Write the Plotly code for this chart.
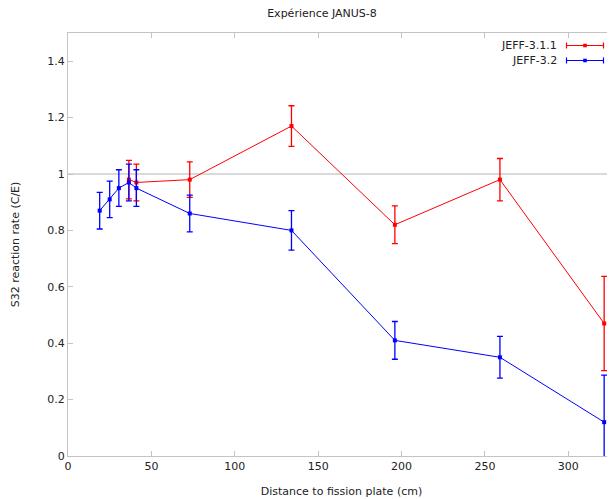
import plotly.graph_objects as go

# ---- data ----
series_names = ["JEFF-3.1.1", "JEFF-3.2"]
x_jeff311 = [36.5, 41, 73, 134, 196, 259, 321.5]
y_jeff311 = [0.98, 0.97, 0.98, 1.17, 0.82, 0.98, 0.47]
err_jeff311 = [0.068, 0.065, 0.063, 0.072, 0.067, 0.075, 0.167]

x_jeff32 = [19, 25, 30.5, 36.5, 41, 73, 134, 196, 259, 321.5]
y_jeff32 = [0.87, 0.91, 0.95, 0.97, 0.95, 0.86, 0.80, 0.41, 0.35, 0.12]
err_jeff32 = [0.065, 0.065, 0.065, 0.065, 0.065, 0.065, 0.07, 0.067, 0.074, 0.167]

x_ticks = [0, 50, 100, 150, 200, 250, 300]
y_ticks = [0, 0.2, 0.4, 0.6, 0.8, 1, 1.2, 1.4]
y_tick_labels = ["0", "0.2", "0.4", "0.6", "0.8", "1", "1.2", "1.4"]
reference_level = 1.0

colors = ["#ff0000", "#0000ff"]
FONT = "DejaVu Sans"
AXIS_COLOR = "#c4c4c4"
TEXT_COLOR = "#222222"

# the page body adds an 8px offset; layout is given in page pixels below
OFF = 8
W, H = 615, 499
plot_left, plot_right, plot_top, plot_bottom = 68, 615, 33, 456
plot_w = plot_right - plot_left
plot_h = plot_bottom - plot_top

fig = go.Figure()
for xs, ys, es, c, name in [
    (x_jeff311, y_jeff311, err_jeff311, colors[0], series_names[0]),
    (x_jeff32, y_jeff32, err_jeff32, colors[1], series_names[1]),
]:
    fig.add_trace(go.Scatter(
        x=xs, y=ys, name=name, mode="lines+markers",
        line=dict(color=c, width=1),
        marker=dict(color=c, size=4, symbol="square", line=dict(width=0)),
        error_y=dict(type="data", array=es, visible=True, color=c,
                     thickness=1.3, width=3),
        showlegend=False, cliponaxis=False,
    ))

def px_x(p):
    return (p - plot_left) / plot_w
def px_y(p):
    return 1 - (p - plot_top) / plot_h

shapes = [dict(type="line", xref="paper", yref="y", x0=0, x1=1,
               y0=reference_level, y1=reference_level,
               line=dict(color="#cccccc", width=1.5), layer="below")]
annotations = []
key_rows = [45.5, 60.5]
for i, (name, c) in enumerate(zip(series_names, colors)):
    yy = px_y(key_rows[i])
    x0, x1, xm = px_x(566.5), px_x(603.5), px_x(585)
    dy = 3 / plot_h
    shapes.append(dict(type="line", xref="paper", yref="paper", x0=x0, x1=x1, y0=yy, y1=yy,
                       line=dict(color=c, width=1.2)))
    for xc in (x0, x1):
        shapes.append(dict(type="line", xref="paper", yref="paper", x0=xc, x1=xc,
                           y0=yy - dy, y1=yy + dy, line=dict(color=c, width=1.2)))
    shapes.append(dict(type="rect", xref="paper", yref="paper",
                       x0=xm - 1.8 / plot_w, x1=xm + 1.8 / plot_w,
                       y0=yy - 1.8 / plot_h, y1=yy + 1.8 / plot_h,
                       line=dict(width=0), fillcolor=c))
    annotations.append(dict(text=name, xref="paper", yref="paper", x=px_x(559), y=yy,
                            xanchor="right", yanchor="middle", showarrow=False,
                            font=dict(family=FONT, size=11, color=TEXT_COLOR)))

axis_common = dict(
    showline=True, linecolor=AXIS_COLOR, linewidth=1,
    ticks="inside", ticklen=5, tickcolor=AXIS_COLOR, tickwidth=1,
    mirror="ticks", showgrid=False, zeroline=False, automargin=False,
    tickfont=dict(family=FONT, size=11, color=TEXT_COLOR),
)

fig.update_layout(
    width=W, height=H,
    margin=dict(l=plot_left - OFF, r=W - (plot_right - OFF), t=plot_top - OFF,
                b=H - (plot_bottom - OFF), autoexpand=False),
    paper_bgcolor="white", plot_bgcolor="white",
    title=dict(text="Expérience JANUS-8", x=(322 - OFF) / W, xanchor="center",
               y=1 - (13 - OFF) / H, yanchor="middle", yref="container",
               font=dict(family=FONT, size=11, color=TEXT_COLOR)),
    xaxis=dict(range=[0, 328], tickvals=x_ticks,
               title=dict(text="Distance to fission plate (cm)", standoff=15,
                          font=dict(family=FONT, size=11, color=TEXT_COLOR)),
               **axis_common),
    yaxis=dict(range=[0, 1.5], tickvals=y_ticks, ticktext=y_tick_labels,
               title=dict(text="S32 reaction rate (C/E)", standoff=25,
                          font=dict(family=FONT, size=11, color=TEXT_COLOR)),
               **axis_common),
    shapes=shapes, annotations=annotations,
)

fig.write_html("out.html")
